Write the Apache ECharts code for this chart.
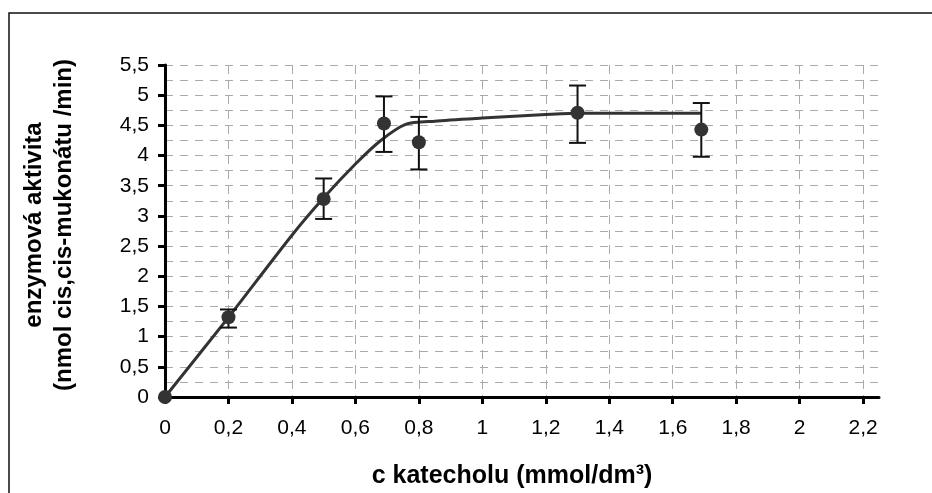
<!DOCTYPE html>
<html>
<head>
<meta charset="utf-8">
<script src="https://cdn.jsdelivr.net/npm/echarts@6/dist/echarts.min.js"></script>
<style>
html,body{margin:0;padding:0;background:#fff;}
#c{width:932px;height:493px;}
</style>
</head>
<body>
<div id="c"></div>
<script>
// measured points
const pointX = [0, 0.2, 0.5, 0.69, 0.8, 1.3, 1.69];
const pointY = [0, 1.32, 3.28, 4.53, 4.22, 4.71, 4.43];
const errLow = [0, 1.15, 2.95, 4.06, 3.77, 4.21, 3.98];
const errHigh = [0, 1.45, 3.62, 4.98, 4.64, 5.16, 4.87];
// fitted curve
const curveX = [0, 0.2, 0.4, 0.5, 0.6, 0.68, 0.76, 0.85, 1.0, 1.2, 1.3, 1.5, 1.69];
const curveY = [0, 1.32, 2.68, 3.3, 3.86, 4.25, 4.52, 4.57, 4.62, 4.68, 4.70, 4.70, 4.70];
// tick labels
const xTicks = [0, 0.2, 0.4, 0.6, 0.8, 1, 1.2, 1.4, 1.6, 1.8, 2, 2.2];
const yTicks = [0, 0.5, 1, 1.5, 2, 2.5, 3, 3.5, 4, 4.5, 5, 5.5];
const xTitle = 'c katecholu (mmol/dm³)';
const yTitle = ['enzymová aktivita', '(nmol cis,cis-mukonátu /min)'];

const fmt = v => String(Math.round(v * 100) / 100).replace('.', ',');

const chart = echarts.init(document.getElementById('c'), null, {renderer: 'canvas'});
const FONT = '"Liberation Sans", Arial, sans-serif';

chart.setOption({
  animation: false,
  backgroundColor: '#fff',
  grid: {left: 165, top: 65, right: 53, bottom: 96},
  xAxis: {
    type: 'value', min: 0, max: 2.25, interval: 0.2,
    axisLine: {show: true, onZero: false, lineStyle: {color: '#000', width: 3}},
    axisTick: {show: true, length: 7, lineStyle: {color: '#000', width: 3}, customValues: xTicks},
    axisLabel: {customValues: xTicks, formatter: fmt, color: '#000', fontSize: 21, fontFamily: FONT, margin: 21},
    splitLine: {show: true, lineStyle: {color: '#aaa', width: 1, type: [9, 6]}}
  },
  yAxis: {
    type: 'value', min: 0, max: 5.5, interval: 0.5,
    axisLine: {show: true, lineStyle: {color: '#000', width: 3}},
    axisTick: {show: true, length: 7, lineStyle: {color: '#000', width: 3}, customValues: yTicks},
    axisLabel: {customValues: yTicks, formatter: fmt, color: '#000', fontSize: 21, fontFamily: FONT, margin: 16},
    splitLine: {show: true, lineStyle: {color: '#aaa', width: 1, type: [8, 7]}},
    minorTick: {show: false, splitNumber: 2},
    minorSplitLine: {show: true, lineStyle: {color: '#aaa', width: 1, type: [8, 7]}}
  },
  graphic: [
    {type: 'rect', shape: {x: 9, y: 13, width: 1000, height: 1000}, style: {fill: 'none', stroke: '#111', lineWidth: 1.5}, silent: true, z: -10},
    {type: 'text', x: 49, y: 225, rotation: Math.PI / 2,
      style: {text: yTitle.join('\n'), font: 'bold 24px ' + FONT, fill: '#000', align: 'center', verticalAlign: 'middle', lineHeight: 30}},
    {type: 'text', x: 512, y: 476,
      style: {text: xTitle, font: 'bold 25px ' + FONT, fill: '#000', align: 'center', verticalAlign: 'middle'}}
  ],
  series: [
    {
      type: 'line', data: curveX.map((x, i) => [x, curveY[i]]),
      showSymbol: false, smooth: 0.25,
      lineStyle: {color: '#333', width: 3}, z: 3
    },
    {
      type: 'custom',
      data: pointX.map((x, i) => [x, errLow[i], errHigh[i]]).filter(d => d[2] > d[1]),
      renderItem: function (params, api) {
        const lo = api.coord([api.value(0), api.value(1)]);
        const hi = api.coord([api.value(0), api.value(2)]);
        const hw = 8.5;
        const st = {stroke: '#111', lineWidth: 2};
        return {type: 'group', children: [
          {type: 'line', shape: {x1: lo[0], y1: lo[1], x2: hi[0], y2: hi[1]}, style: st},
          {type: 'line', shape: {x1: lo[0] - hw, y1: lo[1], x2: lo[0] + hw, y2: lo[1]}, style: st},
          {type: 'line', shape: {x1: hi[0] - hw, y1: hi[1], x2: hi[0] + hw, y2: hi[1]}, style: st}
        ]};
      },
      z: 4
    },
    {
      type: 'scatter', data: pointX.map((x, i) => [x, pointY[i]]),
      symbol: 'circle', symbolSize: 14, itemStyle: {color: '#333', opacity: 1}, z: 5
    }
  ]
});
</script>
</body>
</html>
